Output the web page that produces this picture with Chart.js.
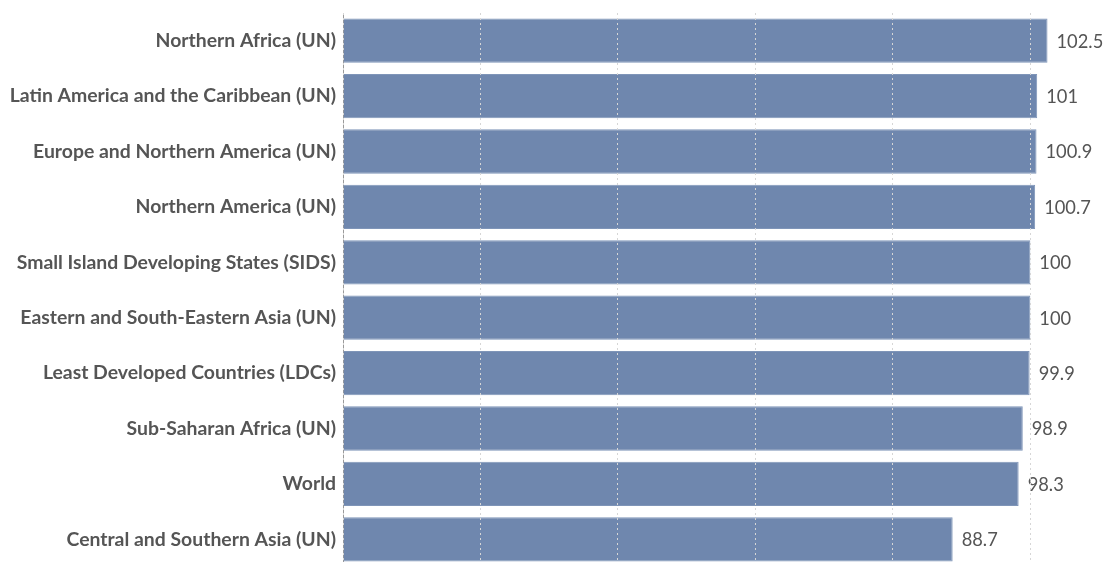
<!DOCTYPE html>
<html>
<head>
<meta charset="utf-8">
<script src="https://cdn.jsdelivr.net/npm/chart.js@4"></script>
<style>
  html, body { margin: 0; padding: 0; background: #fff; overflow: hidden; }
  #wrap { width: 1108px; height: 567px; }
</style>
</head>
<body>
<div id="wrap"><canvas id="myChart"></canvas></div>
<script>
// === データ ===
const regions = [
    'Northern Africa (UN)',
    'Latin America and the Caribbean (UN)',
    'Europe and Northern America (UN)',
    'Northern America (UN)',
    'Small Island Developing States (SIDS)',
    'Eastern and South-Eastern Asia (UN)',
    'Least Developed Countries (LDCs)',
    'Sub-Saharan Africa (UN)',
    'World',
    'Central and Southern Asia (UN)'
];
const values = [102.5, 101, 100.9, 100.7, 100, 100, 99.9, 98.9, 98.3, 88.7];
const valueLabels = ['102.5', '101', '100.9', '100.7', '100', '100', '99.9', '98.9', '98.3', '88.7'];

const BAR_COLOR = '#6f87ae';
const TEXT_COLOR = '#555555';

// バー右側に値を描くプラグイン
const valueLabelPlugin = {
    id: 'valueLabels',
    afterDatasetsDraw(chart) {
        const ctx = chart.ctx;
        const meta = chart.getDatasetMeta(0);
        ctx.save();
        ctx.font = '18.3px Lato';
        ctx.fillStyle = TEXT_COLOR;
        ctx.textBaseline = 'middle';
        ctx.textAlign = 'left';
        meta.data.forEach((bar, i) => {
            ctx.fillText(valueLabels[i], bar.x + 9, bar.y + 1);
        });
        ctx.restore();
    }
};

new Chart(document.getElementById('myChart'), {
    type: 'bar',
    data: {
        labels: regions,
        datasets: [{
            data: values,
            backgroundColor: BAR_COLOR,
            borderColor: '#7f95b8',
            borderWidth: 1,
            barPercentage: 0.8,
            categoryPercentage: 1.0
        }]
    },
    options: {
        indexAxis: 'y',
        responsive: true,
        maintainAspectRatio: false,
        animation: false,
        layout: { padding: { top: 13, right: 0, bottom: 0, left: 0 } },
        plugins: {
            legend: { display: false },
            tooltip: { enabled: false }
        },
        scales: {
            x: {
                min: 0,
                max: 111.3,
                afterBuildTicks: (scale) => {
                    scale.ticks = scale.ticks.filter(t => t.value % 20 === 0);
                },
                afterFit: (scale) => {
                    scale.height = 0;
                    scale.paddingLeft = 0;
                    scale.paddingRight = 0;
                },
                ticks: { display: false, stepSize: 20 },
                border: { display: false, dash: [2, 3] },
                grid: {
                    color: '#d6d6d6',
                    drawTicks: false,
                    z: 1
                }
            },
            y: {
                afterFit: (scale) => {
                    scale.width = 343;
                    scale.paddingTop = 0;
                    scale.paddingBottom = 0;
                },
                ticks: {
                    color: TEXT_COLOR,
                    font: { family: 'Lato', size: 19.4, weight: 'bold' },
                    padding: 7
                },
                grid: { display: false, drawTicks: false },
                border: { display: true, color: '#9a9a9a', width: 1 }
            }
        }
    },
    plugins: [valueLabelPlugin]
});
</script>
</body>
</html>
